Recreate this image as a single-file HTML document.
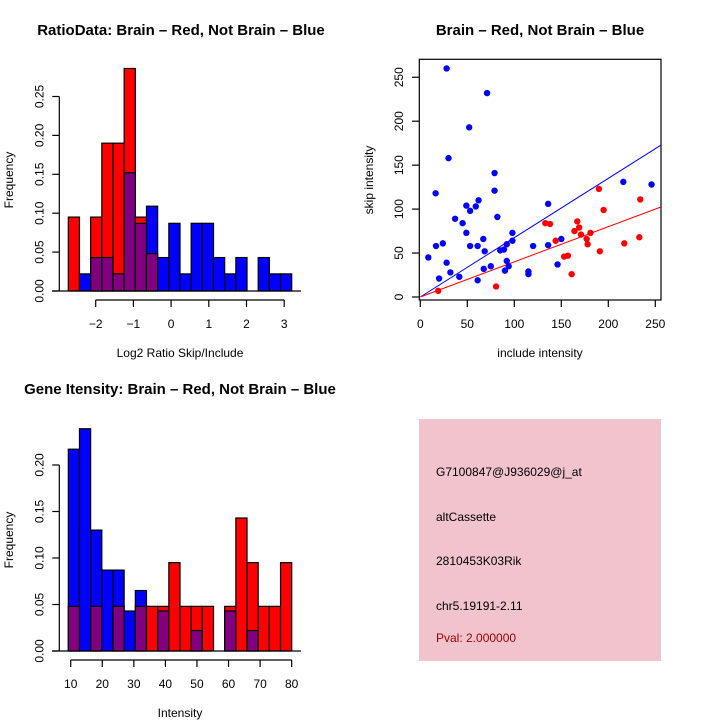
<!DOCTYPE html>
<html><head><meta charset="utf-8"><style>
html,body{margin:0;padding:0;background:#fff;}
svg{display:block;font-family:"Liberation Sans",sans-serif;}
</style></head><body>
<svg id="chart" width="720" height="720" viewBox="0 0 720 720" xmlns="http://www.w3.org/2000/svg">
<rect width="720" height="720" fill="#fff"/>
<text x="181" y="35" text-anchor="middle" font-size="15" font-weight="bold">RatioData: Brain – Red, Not Brain – Blue</text>
<text x="540" y="35" text-anchor="middle" font-size="15" font-weight="bold">Brain – Red, Not Brain – Blue</text>
<text x="180" y="394" text-anchor="middle" font-size="15" font-weight="bold">Gene Itensity: Brain – Red, Not Brain – Blue</text>
<g id="h1"></g>
<g id="sc"></g>
<g id="h2"></g>
<g>
<rect x="419" y="419" width="242" height="242" fill="#f1c3cd"/>
<text x="436" y="476" font-size="12">G7100847@J936029@j_at</text>
<text x="436" y="521" font-size="12">altCassette</text>
<text x="436" y="565" font-size="12">2810453K03Rik</text>
<text x="436" y="610" font-size="12">chr5.19191-2.11</text>
<text x="436" y="642" font-size="12" fill="#9b0000">Pval: 2.000000</text>
</g>
</svg>
<script>
const ratioRed=[0.095,0,0.095,0.19,0.19,0.286,0.095,0.048,0,0,0,0,0,0,0,0,0,0,0,0];
const ratioBlue=[0,0.022,0.043,0.043,0.022,0.152,0.087,0.109,0.043,0.087,0.022,0.087,0.087,0.043,0.022,0.043,0,0.043,0.022,0.022];
const ratioTicksX=[-2,-1,0,1,2,3];
const ratioTicksY=[0,0.05,0.10,0.15,0.20,0.25];
const intRed=[0.048,0,0.048,0,0.048,0,0.048,0.048,0.048,0.095,0.048,0.048,0.048,0,0.048,0.143,0.095,0.048,0.048,0.095];
const intBlue=[0.217,0.239,0.13,0.087,0.087,0.043,0.065,0,0.043,0,0,0.022,0,0,0.043,0,0.022,0,0,0];
const intTicksX=[10,20,30,40,50,60,70,80];
const intTicksY=[0,0.05,0.10,0.15,0.20];
const blueInc=[8.5,16.3,16.7,20,24,28,28,30,32,37,41.5,45,49,49,53,53,52,59,62,61,61,67,67.5,68.5,71,75,79,79,82,85,89,90,92,92,94,98,98,115,115,120,136,136,146,150,216,246];
const blueSkip=[45,118,58,21,61,260,39,158,28,89,23,84,73,104,98,58,193,103,110,58,19,66,32,52,232,35,141,121,91,53,54,30,60,41,35,73,64,29,26,58,106,59,37,66,131,128];
const redInc=[19,80.6,133,138,144,153,157,161,164,167,169,171,177,178,181,190,191,195,217,233,234];
const redSkip=[7,12,84,83,64,46,47,26,75,86,79,71,66,60,73,123,52,99,61,68,111];
const scTicks=[0,50,100,150,200,250];
const blueSlope=0.675, redSlope=0.4;

const NS="http://www.w3.org/2000/svg";
function mk(parent,tag,attrs,text){const e=document.createElementNS(NS,tag);for(const k in attrs)e.setAttribute(k,attrs[k]);if(text!==undefined)e.textContent=text;parent.appendChild(e);return e;}

function hist(g,red,blue,x0,bw,xScale,yScale,ticksX,ticksY,baseY,axisY,axisLeft,xlab,xlabY,ylabY){
  for(let i=0;i<red.length;i++){
    const r=red[i],b=blue[i];const L=x0+i*bw;
    const mx=Math.max(r,b),mn=Math.min(r,b);
    if(mx>0){
      const e=mk(g,'rect',{x:L,y:yScale(mx),width:bw,height:baseY-yScale(mx),fill:r>=b?'#ff0000':'#0000ff',stroke:'#000','stroke-width':1.2});
      
      
    }
    if(mn>0){
      const p=mk(g,'rect',{x:L,y:yScale(mn),width:bw,height:baseY-yScale(mn),fill:'#800080',stroke:'#000','stroke-width':1.2});
      
      
    }
  }
  mk(g,'line',{x1:52,x2:301,y1:baseY,y2:baseY,stroke:'#000','stroke-width':1.2});
  const ax=mk(g,'g',{});
  
  
  mk(ax,'line',{x1:xScale(ticksX[0]),x2:xScale(ticksX[ticksX.length-1]),y1:axisY,y2:axisY,stroke:'#000','stroke-width':1.2});
  ticksX.forEach(t=>{mk(ax,'line',{x1:xScale(t),x2:xScale(t),y1:axisY,y2:axisY+7,stroke:'#000','stroke-width':1.2});
    mk(ax,'text',{x:xScale(t),y:axisY+28,'text-anchor':'middle','font-size':12},t<0?'−'+Math.abs(t):String(t));});
  const ay=mk(g,'g',{});
  
  
  mk(ay,'line',{x1:axisLeft,x2:axisLeft,y1:yScale(ticksY[0]),y2:yScale(ticksY[ticksY.length-1]),stroke:'#000','stroke-width':1.2});
  ticksY.forEach(t=>{const y=yScale(t);mk(ay,'line',{x1:axisLeft-7,x2:axisLeft,y1:y,y2:y,stroke:'#000','stroke-width':1.2});
    mk(ay,'text',{x:0,y:0,transform:`translate(${axisLeft-16},${y}) rotate(-90)`,'text-anchor':'middle','font-size':12},t.toFixed(2));});
  const xl=mk(g,'text',{x:180,y:xlabY,'text-anchor':'middle','font-size':12},xlab);
  
  
  const yl=mk(g,'text',{x:0,y:0,transform:`translate(13,${ylabY}) rotate(-90)`,'text-anchor':'middle','font-size':12},'Frequency');
  
  
}
{const xs=v=>95.7+(v+2)*37.7;const ys=v=>291-v*778;
 hist(document.getElementById('h1'),ratioRed,ratioBlue,68.3,11.17,xs,ys,ratioTicksX,ratioTicksY,291,300,59.3,'Log2 Ratio Skip/Include',357,180);}
{const xs=v=>70.7+(v-10)*3.157;const ys=v=>651-v*930;
 hist(document.getElementById('h2'),intRed,intBlue,68.3,11.17,xs,ys,intTicksX,intTicksY,651,660,59.3,'Intensity',717,540);}
{const g=document.getElementById('sc');
 const xs=v=>420.3+v*0.94, ys=v=>297-v*0.879;
 mk(g,'rect',{x:419.3,y:59.3,width:241.7,height:240.7,fill:'none',stroke:'#000','stroke-width':1.2});
 const ax=mk(g,'g',{});
 
 
 scTicks.forEach(t=>{mk(ax,'line',{x1:xs(t),x2:xs(t),y1:300,y2:307,stroke:'#000','stroke-width':1.2});
   mk(ax,'text',{x:xs(t),y:328,'text-anchor':'middle','font-size':12},String(t));});
 const ay=mk(g,'g',{});
 
 
 scTicks.forEach(t=>{mk(ay,'line',{x1:412,x2:419.3,y1:ys(t),y2:ys(t),stroke:'#000','stroke-width':1.2});
   mk(ay,'text',{x:0,y:0,transform:`translate(403,${ys(t)}) rotate(-90)`,'text-anchor':'middle','font-size':12},String(t));});
 const xl=mk(g,'text',{x:540,y:357,'text-anchor':'middle','font-size':12},'include intensity');
 
 
 const yl=mk(g,'text',{x:0,y:0,transform:'translate(373,180) rotate(-90)','text-anchor':'middle','font-size':12},'skip intensity');
 
 
 const xmax=255.7;
 const bl=mk(g,'line',{x1:xs(0),y1:ys(0),x2:xs(xmax),y2:ys(blueSlope*xmax),stroke:'#0000ff','stroke-width':1});
 
 
 const rl=mk(g,'line',{x1:xs(0),y1:ys(0),x2:xs(xmax),y2:ys(redSlope*xmax),stroke:'#ff0000','stroke-width':1});
 
 
 blueInc.forEach((v,i)=>{const c=mk(g,'circle',{cx:xs(v),cy:ys(blueSkip[i]),r:3.2,fill:'#0000ff'});
   
   });
 redInc.forEach((v,i)=>{const c=mk(g,'circle',{cx:xs(v),cy:ys(redSkip[i]),r:3.2,fill:'#ff0000'});
   
   });
}
</script>
</body></html>
